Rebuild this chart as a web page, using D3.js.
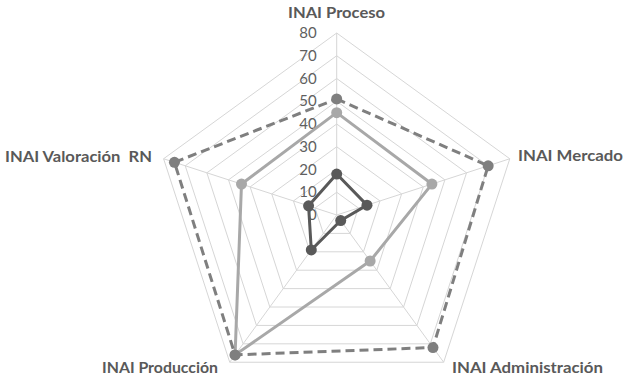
<!DOCTYPE html>
<html>
<head>
<meta charset="utf-8">
<script src="https://cdn.jsdelivr.net/npm/d3@7"></script>
<style>
  html, body { margin: 0; padding: 0; background: #fff; }
  svg { display: block; }
</style>
</head>
<body>
<svg id="chart" width="624" height="381"></svg>
<script>
// Radar chart of INAI indicators, three series on a 0–80 scale
const categories = ["INAI Proceso", "INAI Mercado", "INAI Administración", "INAI Producción", "INAI Valoración  RN"];
const tickValues = [0, 10, 20, 30, 40, 50, 60, 70, 80];
const seriesDark = [18, 14, 3, 19, 13];
const seriesLight = [45, 44, 25, 76, 44];
const seriesDashed = [51, 70, 72, 76, 75];

// label placement: anchor, x, y (baseline) and drawn width
const labelPos = [
  { anchor: "middle", x: 336.5, y: 18, w: 97 },
  { anchor: "start", x: 518, y: 161, w: 105 },
  { anchor: "start", x: 452, y: 373, w: 151 },
  { anchor: "start", x: 102, y: 373, w: 116 },
  { anchor: "start", x: 5, y: 162, w: 147 }
];

const svg = d3.select("#chart");
const cx = 336.7, cy = 215;
const r = d3.scaleLinear().domain([0, 80]).range([0, 182]);
const angle = d3.scaleLinear().domain([0, categories.length]).range([0, 2 * Math.PI]);

function pt(i, v) {
  const a = angle(i);
  return [cx + r(v) * Math.sin(a), cy - r(v) * Math.cos(a)];
}

const g = svg.append("g");

// concentric grid pentagons
g.selectAll("path.ring")
  .data(tickValues.filter(t => t > 0))
  .enter().append("path")
  .attr("class", "ring")
  .attr("d", t => d3.line()(categories.map((c, i) => pt(i, t))) + "Z")
  .attr("fill", "none")
  .attr("stroke", "#d6d6d6")
  .attr("stroke-width", 1);

// spokes
g.selectAll("line.spoke")
  .data(categories)
  .enter().append("line")
  .attr("class", "spoke")
  .attr("x1", cx).attr("y1", cy)
  .attr("x2", (c, i) => pt(i, 80)[0])
  .attr("y2", (c, i) => pt(i, 80)[1])
  .attr("stroke", "#d6d6d6")
  .attr("stroke-width", 1);

// tick labels along the first axis
g.selectAll("text.tick")
  .data(tickValues)
  .enter().append("text")
  .attr("class", "tick")
  .attr("x", cx - 20)
  .attr("y", t => cy - r(t) + 5)
  .attr("text-anchor", "end")
  .attr("font-family", "Lato, 'Open Sans', sans-serif")
  .attr("font-size", 15)
  .attr("fill", "#5f5f5f")
  .text(t => t);

// series
const series = [
  { values: seriesLight, color: "#a8a8a8", dash: null },
  { values: seriesDashed, color: "#7f7f7f", dash: "9,5" },
  { values: seriesDark, color: "#595959", dash: null }
];

series.forEach(s => {
  const pts = s.values.map((v, i) => pt(i, v));
  g.append("path")
    .attr("d", d3.line()(pts) + "Z")
    .attr("fill", "none")
    .attr("stroke", s.color)
    .attr("stroke-width", 3)
    .attr("stroke-dasharray", s.dash)
    .attr("stroke-linejoin", "round");
  g.selectAll(null)
    .data(pts)
    .enter().append("circle")
    .attr("cx", d => d[0])
    .attr("cy", d => d[1])
    .attr("r", 5.5)
    .attr("fill", s.color);
});

// category labels
g.selectAll("text.cat")
  .data(categories)
  .enter().append("text")
  .attr("class", "cat")
  .attr("x", (c, i) => labelPos[i].x)
  .attr("y", (c, i) => labelPos[i].y)
  .attr("text-anchor", (c, i) => labelPos[i].anchor)
  .attr("textLength", (c, i) => labelPos[i].w)
  .attr("lengthAdjust", "spacingAndGlyphs")
  .attr("font-family", "Lato, 'Open Sans', sans-serif")
  .attr("font-weight", 700)
  .attr("font-size", 15)
  .attr("fill", "#595959")
  .style("white-space", "pre")
  .text(c => c);
</script>
</body>
</html>
